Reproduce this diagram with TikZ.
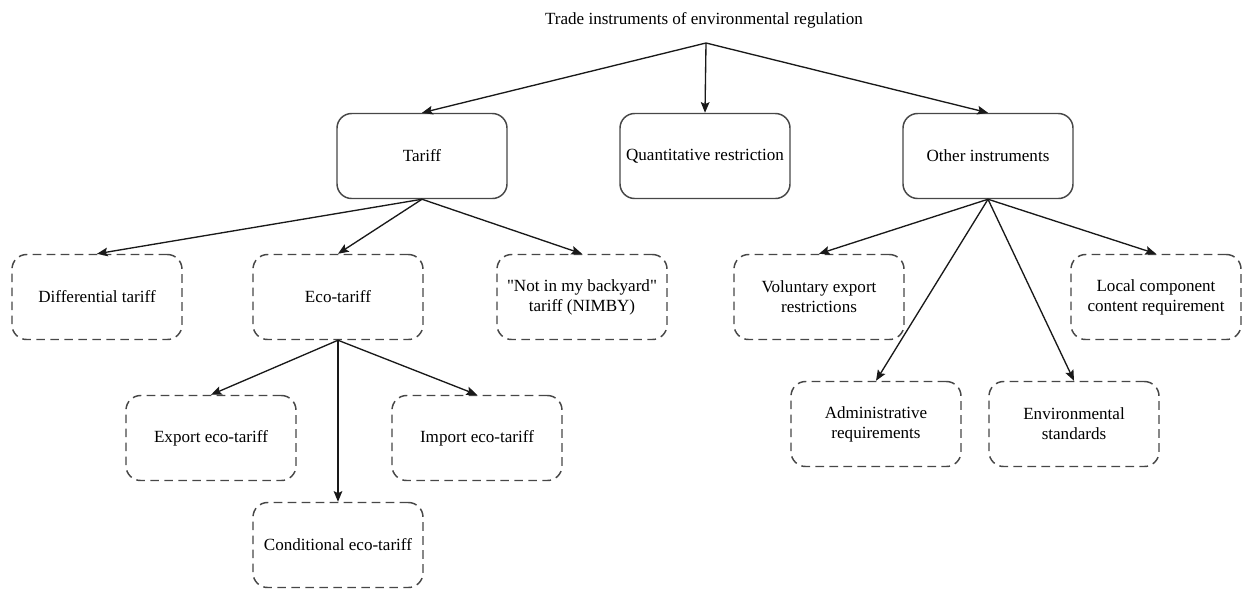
\documentclass[tikz,border=0pt]{standalone}
\usepackage{fontspec}
\setmainfont{Liberation Serif}
\newfontfamily\rawserif{Liberation Serif}[Ligatures=TeXOff]
\usetikzlibrary{arrows.meta}
\begin{document}
\begin{tikzpicture}[x=0.75pt,y=-0.75pt,
  txt/.style={font=\fontsize{12.8}{15}\selectfont},
  box/.style={draw=black!72, line width=1.1pt, rounded corners=11pt, minimum width=127.5pt, minimum height=63.75pt, align=center, txt, inner sep=2pt},
  dbox/.style={box, dash pattern=on 6.5pt off 4pt},
  arr/.style={-{Stealth[length=8pt,width=6.5pt,inset=1.5pt]}, line width=1pt, draw=black!90}
]
\useasboundingbox (0,0) rectangle (1242,590);
\node[txt] (title) at (704,20) {Trade instruments of environmental regulation};
\coordinate (tp) at (706,43);
\node[box] (tariff) at (422,156) {Tariff};
\node[box] (quant) at (705,156) {Quantitative restriction};
\node[box] (other) at (988,156) {Other instruments};
\node[dbox] (diff) at (97,297) {Differential tariff};
\node[dbox] (eco) at (338,297) {Eco-tariff};
\node[dbox] (nimby) at (582,297) {{\rawserif "Not in my backyard"}\\tariff (NIMBY)};
\node[dbox] (vol) at (819,297) {Voluntary export\\restrictions};
\node[dbox] (local) at (1156,297) {Local component\\content requirement};
\node[dbox] (exp) at (211,438) {Export eco-tariff};
\node[dbox] (imp) at (477,438) {Import eco-tariff};
\node[dbox] (cond) at (338,545) {Conditional eco-tariff};
\node[dbox] (adm) at (876,424) {Administrative\\requirements};
\node[dbox] (env) at (1074,424) {Environmental\\standards};
\draw[arr] (tp) -- (tariff.north);
\draw[arr] (tp) -- (quant.north);
\draw[arr] (tp) -- (other.north);
\draw[arr] (tariff.south) -- (diff.north);
\draw[arr] (tariff.south) -- (eco.north);
\draw[arr] (tariff.south) -- (nimby.north);
\draw[arr] (eco.south) -- (exp.north);
\draw[arr] (eco.south) -- (imp.north);
\draw[arr] (eco.south) -- (cond.north);
\draw[arr] (other.south) -- (vol.north);
\draw[arr] (other.south) -- (local.north);
\draw[arr] (other.south) -- (adm.north);
\draw[arr] (other.south) -- (env.north);
\end{tikzpicture}
\end{document}
